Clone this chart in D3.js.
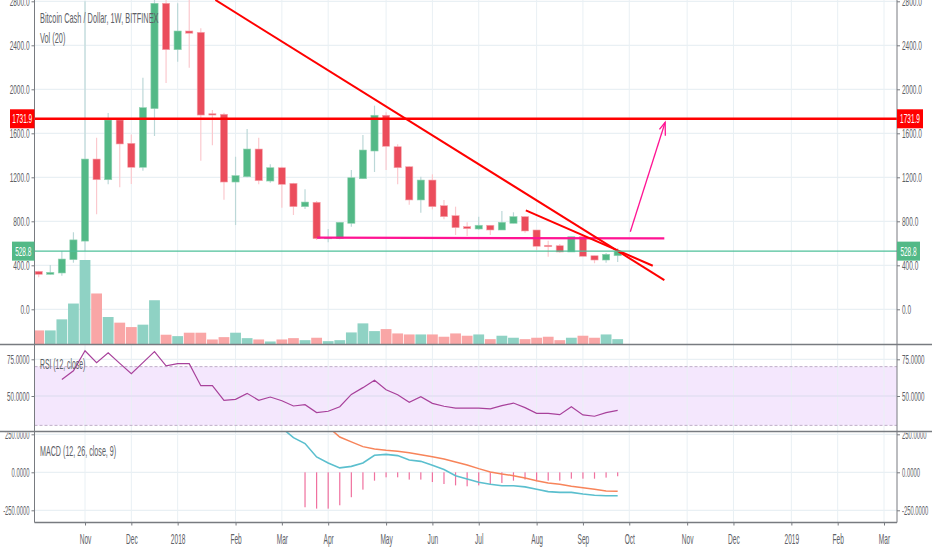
<!DOCTYPE html>
<html>
<head>
<meta charset="utf-8">
<style>
html, body { margin: 0; padding: 0; background: #fff; overflow: hidden; }
svg { display: block; }
text { font-family: "Liberation Sans", Arial, sans-serif; }
</style>
<script src="https://cdn.jsdelivr.net/npm/d3@7"></script>
</head>
<body>
<svg id="chart" width="932" height="550"></svg>
<script>
// weekly candles
var opens = [345, 318, 330, 451, 620, 1366, 1178, 1721, 1509, 1291, 1824, 2782, 2360, 2530, 2518, 1778, 1773, 1157, 1205, 1457, 1166, 1287, 1145, 933, 973, 642, 642, 782, 1187, 1439, 1764, 1478, 1296, 994, 1175, 942, 851, 751, 730, 764, 721, 782, 842, 721, 582, 578, 521, 660, 487, 448, 487];
var closes = [318, 336, 457, 631, 1366, 1178, 1721, 1503, 1291, 1833, 2782, 2360, 2530, 2510, 1766, 1766, 1157, 1215, 1457, 1169, 1287, 1136, 933, 975, 642, 650, 791, 1196, 1448, 1764, 1482, 1287, 994, 1175, 933, 842, 742, 733, 764, 721, 791, 842, 712, 573, 569, 521, 660, 482, 448, 500, 528.8];
var highs = [351, 403, 530, 700, 2800, 1560, 1784, 1725, 1590, 2105, 2830, 2830, 2782, 2830, 2555, 1812, 1787, 1387, 1639, 1560, 1318, 1296, 1150, 1091, 985, 730, 791, 1266, 1585, 1851, 1791, 1500, 1300, 1205, 1227, 994, 933, 791, 842, 764, 893, 882, 846, 721, 624, 594, 660, 675, 487, 512, 555];
var lows = [291, 315, 305, 424, 530, 864, 1136, 1109, 1139, 1260, 1575, 2057, 2250, 2196, 1351, 1491, 996, 766, 1200, 1136, 1151, 924, 857, 912, 630, 609, 636, 751, 1187, 1248, 1266, 1136, 951, 878, 909, 818, 675, 666, 720, 675, 721, 782, 696, 539, 478, 515, 521, 482, 418, 424, 430];
var volumes = [350, 350, 625, 1018, 2100, 1268, 683, 543, 433, 493, 1100, 243, 208, 293, 293, 125, 183, 293, 158, 125, 75, 125, 158, 108, 168, 83, 108, 300, 525, 333, 383, 275, 250, 250, 250, 193, 275, 218, 250, 133, 218, 168, 133, 168, 193, 108, 168, 218, 168, 250, 133];

// indicators start later than the candles, so they carry their first week
var rsiStart = 2;
var rsiValues = [61.3, 67.2, 80.8, 72.7, 79.5, 72.2, 65.2, 72.7, 80.2, 70.6, 72, 72, 57, 57, 47.1, 47.7, 51.8, 47.1, 49.3, 46.8, 43.2, 44.1, 38.7, 39.6, 42.7, 51.1, 55.7, 60.7, 54.3, 50.9, 45.7, 49.5, 45, 43, 41.8, 41.8, 41.8, 41.2, 43.4, 45.2, 42.1, 38.2, 38.2, 37.3, 42.7, 37.1, 36.2, 38.7, 40.2];
var macdStart = 21;
var macdValues = [292, 228, 189, 101, 61, 29, 39, 61, 112, 118, 110, 81, 72, 46, 18, -22, -44, -66, -79, -88, -88, -96, -112, -127, -132, -132, -143, -151, -154, -154];
var signalStart = 25;
var signalValues = [298, 232, 200, 169, 154, 145, 138, 129, 116, 103, 88, 68, 48, 24, 2, -11, -22, -37, -55, -70, -79, -92, -101, -112, -123, -125];
var histStart = 23;
var histValues = [-230, -239, -239, -217, -164, -114, -55, -33, -33, -48, -48, -64, -77, -86, -92, -86, -77, -70, -55, -48, -59, -55, -55, -42, -42, -42, -35, -26];

var tickWeeks = [4, 8, 12, 17, 21, 25, 30, 34, 38, 43, 47, 51, 56, 60, 65, 69, 73];
var tickLabels = ['Nov', 'Dec', '2018', 'Feb', 'Mar', 'Apr', 'May', 'Jun', 'Jul', 'Aug', 'Sep', 'Oct', 'Nov', 'Dec', '2019', 'Feb', 'Mar'];
var priceTicks = [0, 400, 800, 1200, 1600, 2000, 2400, 2800];
var rsiTicks = [50, 75];
var macdTicks = [-250, 0, 250];

var resistance = 1731.9;
var lastPrice = 528.8;
var trendLong = [[15.26, 2812], [54.03, 266]];
var trendShort = [[42.07, 900], [53.03, 396]];
var supportLine = [[24.04, 651], [54.03, 645]];
var arrowLine = [[51.09, 705], [54.1, 1700]];

var left = 34.5, right = 897;
var mainBottom = 344.5, rsiBottom = 431.5, macdBottom = 522.5;
var green = '#53b987', red = '#eb4d5c', pink = '#ff1493', labelColor = '#5d6066', axisColor = '#787b80', gridColor = '#e9f0f4';

var svg = d3.select('#chart');
var x = d3.scaleLinear().domain([0, 73]).range([38.7, 884]);
var y = d3.scaleLinear().domain([0, 2800]).range([309.3, 1.3]);
var yVol = d3.scaleLinear().domain([0, 2100]).range([mainBottom, 260]);
var yRsi = d3.scaleLinear().domain([50, 75]).range([396, 359.3]);
var yMacd = d3.scaleLinear().domain([-250, 250]).range([510.3, 434.3]);

function addClip(id, y0, y1) {
    svg.append('clipPath').attr('id', id).append('rect')
        .attr('x', left).attr('y', y0).attr('width', right - left).attr('height', y1 - y0);
}
addClip('clip-main', 0, mainBottom);
addClip('clip-rsi', mainBottom, rsiBottom);
addClip('clip-macd', rsiBottom, macdBottom);

// grid
function hGrid(values, scale) {
    svg.append('g').selectAll('line').data(values).join('line')
        .attr('x1', left).attr('x2', right)
        .attr('y1', function(d) { return scale(d); })
        .attr('y2', function(d) { return scale(d); })
        .attr('stroke', gridColor).attr('stroke-width', 1.3);
}

// rsi band goes under the grid lines
svg.append('rect')
    .attr('x', left).attr('width', right - left)
    .attr('y', yRsi(70)).attr('height', yRsi(30) - yRsi(70))
    .attr('fill', '#f4e7fd');

hGrid(priceTicks, y);
hGrid(rsiTicks, yRsi);
hGrid(macdTicks, yMacd);
svg.append('g').selectAll('line').data(tickWeeks).join('line')
    .attr('x1', function(d) { return x(d); })
    .attr('x2', function(d) { return x(d); })
    .attr('y1', 0).attr('y2', macdBottom)
    .attr('stroke', gridColor).attr('stroke-width', 1);

// rsi band edges
[70, 30].forEach(function(v) {
    svg.append('line')
        .attr('x1', left).attr('x2', right)
        .attr('y1', yRsi(v)).attr('y2', yRsi(v))
        .attr('stroke', '#bfaec8').attr('stroke-width', 1).attr('stroke-dasharray', '3 2');
});
svg.append('line')
    .attr('x1', left).attr('x2', right)
    .attr('y1', yRsi(50)).attr('y2', yRsi(50))
    .attr('stroke', '#e6dcf5').attr('stroke-width', 1.3);

// main pane
var main = svg.append('g').attr('clip-path', 'url(#clip-main)');
var weeks = d3.range(opens.length);
function isUp(i) { return closes[i] >= opens[i]; }

main.append('g').selectAll('rect').data(weeks).join('rect')
    .attr('x', function(i) { return x(i) - 5.4; })
    .attr('width', 10.8)
    .attr('y', function(i) { return yVol(volumes[i]); })
    .attr('height', function(i) { return mainBottom - yVol(volumes[i]); })
    .attr('fill', function(i) { return isUp(i) ? '#8fd2c4' : '#f9a6a6'; });

main.append('g').selectAll('line').data(weeks).join('line')
    .attr('x1', function(i) { return x(i); })
    .attr('x2', function(i) { return x(i); })
    .attr('y1', function(i) { return y(highs[i]); })
    .attr('y2', function(i) { return y(lows[i]); })
    .attr('stroke', function(i) { return isUp(i) ? '#bcd8d8' : '#fbc9ce'; })
    .attr('stroke-width', 1.2);

main.append('g').selectAll('rect').data(weeks).join('rect')
    .attr('x', function(i) { return x(i) - 3.6; })
    .attr('width', 7.2)
    .attr('y', function(i) { return y(Math.max(opens[i], closes[i])); })
    .attr('height', function(i) { return Math.max(1, Math.abs(y(opens[i]) - y(closes[i]))); })
    .attr('fill', function(i) { return isUp(i) ? green : red; })
    .attr('stroke', function(i) { return isUp(i) ? '#93d3b4' : '#f6a5ad'; })
    .attr('stroke-width', 0.6);

// drawings
var priceLine = d3.line()
    .x(function(d) { return x(d[0]); })
    .y(function(d) { return y(d[1]); });

main.append('path').attr('d', priceLine(supportLine)).attr('fill', 'none').attr('stroke', pink).attr('stroke-width', 2.2);
main.append('path').attr('d', priceLine(trendLong)).attr('fill', 'none').attr('stroke', '#ff0000').attr('stroke-width', 2);
main.append('path').attr('d', priceLine(trendShort)).attr('fill', 'none').attr('stroke', '#ff0000').attr('stroke-width', 2);
main.append('path').attr('d', priceLine(arrowLine)).attr('fill', 'none').attr('stroke', pink).attr('stroke-width', 1.3);

var tipX = x(arrowLine[1][0]), tipY = y(arrowLine[1][1]);
main.append('path')
    .attr('d', 'M' + (tipX - 5.7) + ',' + (tipY + 7) + 'L' + tipX + ',' + tipY + 'L' + (tipX + 0.2) + ',' + (tipY + 13.5))
    .attr('fill', 'none').attr('stroke', pink).attr('stroke-width', 1.3);

main.append('line')
    .attr('x1', left).attr('x2', right)
    .attr('y1', y(lastPrice)).attr('y2', y(lastPrice))
    .attr('stroke', '#4fc09a').attr('stroke-width', 1.2);
main.append('line')
    .attr('x1', left).attr('x2', right)
    .attr('y1', y(resistance)).attr('y2', y(resistance))
    .attr('stroke', '#ff0000').attr('stroke-width', 2.4);

// rsi line
var rsiPath = d3.line()
    .x(function(d, i) { return x(i + rsiStart); })
    .y(function(d) { return yRsi(d); });
svg.append('g').attr('clip-path', 'url(#clip-rsi)').append('path')
    .attr('d', rsiPath(rsiValues))
    .attr('fill', 'none').attr('stroke', '#a8419b').attr('stroke-width', 1.2);

// macd
var macd = svg.append('g').attr('clip-path', 'url(#clip-macd)');
macd.append('g').selectAll('rect').data(histValues).join('rect')
    .attr('x', function(d, i) { return x(i + histStart) - 0.6; })
    .attr('width', 1.2)
    .attr('y', yMacd(0))
    .attr('height', function(d) { return yMacd(d) - yMacd(0); })
    .attr('fill', '#f0719f');
function macdPath(start) {
    return d3.line()
        .x(function(d, i) { return x(i + start); })
        .y(function(d) { return yMacd(d); });
}
macd.append('path').attr('d', macdPath(signalStart)(signalValues))
    .attr('fill', 'none').attr('stroke', '#f7845a').attr('stroke-width', 1.5);
macd.append('path').attr('d', macdPath(macdStart)(macdValues))
    .attr('fill', 'none').attr('stroke', '#5bbfce').attr('stroke-width', 1.6);

// axes, labels squeezed like the picture
function squeeze(sel, scaleX) {
    sel.selectAll('text').each(function() {
        var t = d3.select(this);
        var tx = +t.attr('x') || 0, ty = +t.attr('y') || 0;
        t.attr('x', 0).attr('y', 0)
            .attr('transform', 'translate(' + tx + ',' + ty + ') scale(' + scaleX + ',1)');
    });
}
function styleAxis(g, size) {
    g.selectAll('.domain').remove();
    g.selectAll('line').attr('stroke', axisColor);
    g.selectAll('text').attr('fill', labelColor).attr('font-size', size);
    g.attr('font-family', null);
}
function sideAxes(scale, values, format, scaleX) {
    var a = svg.append('g').attr('transform', 'translate(' + left + ',0)')
        .call(d3.axisLeft(scale).tickValues(values).tickFormat(format).tickSize(3).tickPadding(2));
    var b = svg.append('g').attr('transform', 'translate(' + right + ',0)')
        .call(d3.axisRight(scale).tickValues(values).tickFormat(format).tickSize(3).tickPadding(2));
    styleAxis(a, 13); styleAxis(b, 13);
    squeeze(a, scaleX); squeeze(b, scaleX);
}
sideAxes(y, priceTicks, d3.format('.1f'), 0.5);
sideAxes(yRsi, rsiTicks, d3.format('.4f'), 0.48);
sideAxes(yMacd, macdTicks, function(d) { return d3.format('.4f')(d).replace('−', '-'); }, 0.45);

var bottom = svg.append('g').attr('transform', 'translate(0,' + macdBottom + ')')
    .call(d3.axisBottom(x).tickValues(tickWeeks).tickFormat(function(d, i) { return tickLabels[i]; }).tickSize(3).tickPadding(9));
styleAxis(bottom, 14);
squeeze(bottom, 0.47);

// the 250 labels run under the pane border and lose their top
[[0, left], [right + 1, 932 - right - 1]].forEach(function(s) {
    svg.append('rect').attr('x', s[0]).attr('y', rsiBottom - 5).attr('width', s[1]).attr('height', 6).attr('fill', '#fff');
});

// pane borders
[mainBottom, rsiBottom].forEach(function(v) {
    svg.append('line').attr('x1', 0).attr('x2', 932)
        .attr('y1', v).attr('y2', v)
        .attr('stroke', axisColor).attr('stroke-width', 1.6);
});
svg.append('line').attr('x1', left).attr('x2', right)
    .attr('y1', macdBottom).attr('y2', macdBottom)
    .attr('stroke', axisColor).attr('stroke-width', 1.6);
svg.append('line').attr('x1', left).attr('x2', left).attr('y1', 0).attr('y2', macdBottom).attr('stroke', axisColor).attr('stroke-width', 1);
svg.append('line').attr('x1', right).attr('x2', right).attr('y1', 0).attr('y2', macdBottom).attr('stroke', axisColor).attr('stroke-width', 1);

// price boxes on both sides
function priceBox(value, color, leftX, rightW) {
    var cy = y(value);
    [[leftX, left - leftX, (leftX + left) / 2], [right, rightW, right + rightW / 2]].forEach(function(b) {
        svg.append('rect').attr('x', b[0]).attr('y', cy - 9.5).attr('width', b[1]).attr('height', 19).attr('fill', color);
        svg.append('text')
            .attr('transform', 'translate(' + b[2] + ',' + (cy + 4.5) + ') scale(0.5,1)')
            .attr('text-anchor', 'middle').attr('font-size', 13).attr('fill', '#fff')
            .text(d3.format('.1f')(value));
    });
}
priceBox(resistance, '#ff0000', 10, 26);
priceBox(lastPrice, green, 12, 23);

// pane titles
function title(txt, tx, ty, scaleX) {
    svg.append('text')
        .attr('transform', 'translate(' + tx + ',' + ty + ') scale(' + scaleX + ',1)')
        .attr('font-size', 14).attr('fill', labelColor).text(txt);
}
title('Bitcoin Cash / Dollar, 1W, BITFINEX', 40, 23, 0.527);
title('Vol (20)', 40, 43, 0.527);
title('RSI (12, close)', 40, 369, 0.49);
title('MACD (12, 26, close, 9)', 40, 456, 0.51);
</script>
</body>
</html>
